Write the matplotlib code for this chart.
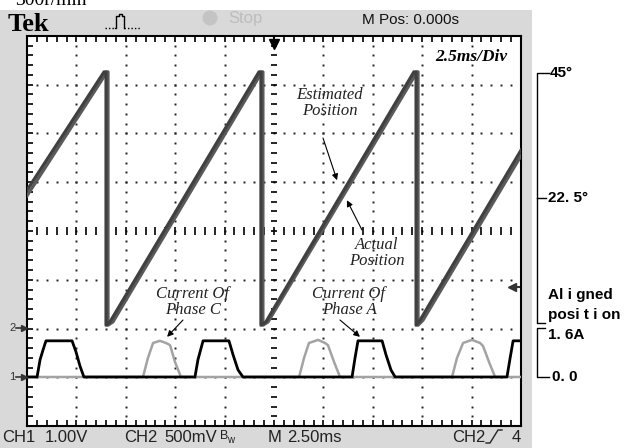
import numpy as np
import matplotlib
matplotlib.use('Agg')
import matplotlib.pyplot as plt
from matplotlib.ticker import MultipleLocator
from matplotlib.patches import Rectangle, Ellipse
from matplotlib.lines import Line2D
from matplotlib.transforms import blended_transform_factory

# time in ms (2.5 ms/div), rotor position in degrees, phase current in A
est_t = [0.0, 3.90, 4.00, 4.00, 4.20, 11.74, 11.84, 11.84, 12.09, 19.58, 19.69, 19.69, 19.89, 25.0]
est_deg = [23.9, 45.2, 45.2, -0.4, 0.2, 45.2, 45.2, -0.4, 0.2, 45.2, 45.2, -0.4, 0.5, 31.1]
act_t = [0.0, 4.05, 4.10, 4.10, 4.35, 11.89, 11.94, 11.94, 12.20, 19.74, 19.79, 19.79, 20.04, 25.0]
act_deg = [22.9, 45.2, 45.2, -0.4, 0.2, 45.2, 45.2, -0.4, 0.2, 45.2, 45.2, -0.4, 0.5, 30.1]

ia_t = [0, 0.51, 0.66, 0.81, 0.96, 2.28, 2.48, 2.68, 2.88,
        8.50, 8.65, 8.91, 10.22, 10.43, 10.68, 10.93,
        16.45, 16.60, 16.75, 17.97, 18.17, 18.42, 18.63,
        24.29, 24.45, 24.60, 25.0]
ia = [0, 0, 0.56, 0.88, 1.18, 1.18, 0.82, 0.36, 0,
      0, 0.56, 1.18, 1.18, 0.72, 0.23, 0,
      0, 0.62, 1.18, 1.18, 0.72, 0.23, 0,
      0, 0.62, 1.18, 1.18]

ic_t = [0, 5.87, 6.12, 6.38, 6.73, 7.03, 7.24, 7.49, 7.79,
        13.77, 14.02, 14.27, 14.73, 15.08, 15.23, 15.54, 15.84,
        21.51, 21.76, 22.07, 22.52, 22.93, 23.08, 23.38, 23.69, 25.0]
ic = [0, 0, 0.62, 1.11, 1.18, 1.11, 1.04, 0.49, 0,
      0, 0.62, 1.11, 1.21, 1.11, 1.04, 0.49, 0,
      0, 0.62, 1.11, 1.21, 1.11, 1.01, 0.49, 0, 0]

W, H = 625, 448
fig = plt.figure(figsize=(6.25, 4.48), dpi=100)
fig.patch.set_facecolor('white')

def fx(px):
    return px / W

def fy(py):
    return 1 - py / H

def fline(xs, ys, **kw):
    fig.add_artist(Line2D([fx(x) for x in xs], [fy(y) for y in ys], transform=fig.transFigure, **kw))

# grey scope panel
fig.add_artist(Rectangle((0, 0), fx(532), fy(10), transform=fig.transFigure,
                         facecolor='#d9d9d9', edgecolor='none', zorder=-5))

ax = fig.add_axes([fx(27), 22 / H, 494 / W, 390 / H])
ax.set_facecolor('white')
ax.set_xlim(0, 25)
ax.set_ylim(0, 8)
ax.xaxis.set_major_locator(MultipleLocator(2.5))
ax.xaxis.set_minor_locator(MultipleLocator(0.5))
ax.yaxis.set_major_locator(MultipleLocator(1))
ax.yaxis.set_minor_locator(MultipleLocator(0.2))
ax.tick_params(which='both', direction='in', length=4, width=1.2, top=True, right=True,
               labelbottom=False, labelleft=False)
for s in ax.spines.values():
    s.set_linewidth(1.5)

# dotted graticule
ydots = np.arange(0.2, 8, 0.2)
xdots = np.arange(0.5, 25, 0.5)
for gx in np.arange(2.5, 25, 2.5):
    if abs(gx - 12.5) > 0.01:
        ax.plot([gx] * len(ydots), ydots, 's', ms=1.4, color='#222222', mew=0)
for gy in range(1, 8):
    if gy != 4:
        ax.plot(xdots, [gy] * len(xdots), 's', ms=1.4, color='#222222', mew=0)
# centre cross with ticks
ax.plot(xdots, [4] * len(xdots), ls='none', marker='|', ms=5.5, mew=1.2, color='k')
ax.plot([12.5] * len(ydots), ydots, ls='none', marker='_', ms=4.5, mew=1.2, color='k')
ax.plot(12.5, 7.84, marker='v', ms=7, color='k', clip_on=False)
ax.plot([12.5, 12.5], [7.84, 8.0], color='k', lw=1.5, clip_on=False)
ax.plot(24.55, 2.85, marker='<', ms=6, color='#333333')
ax.plot([24.55, 25], [2.85, 2.85], color='#333333', lw=1.5)

# position traces
ax_pos = ax.twinx()
ax_pos.set_ylim(-18.54, 51.66)
ax_pos.axis('off')
ax_pos.plot(act_t, act_deg, color='#5a5a5a', lw=2.3)
ax_pos.plot(est_t, est_deg, color='#404040', lw=2.3)

# current traces
ax_cur = ax.twinx()
ax_cur.set_ylim(-1.6, 11.13)
ax_cur.axis('off')
ax_cur.plot(ic_t, ic, color='#a3a3a3', lw=1.8)
ax_cur.plot(ia_t, ia, color='black', lw=2.0)

# annotations
serif = 'Liberation Serif'
fig.text(fx(330), fy(103), 'Estimated\nPosition', ha='center', va='center', fontsize=12,
         style='italic', family=serif, color='#222222', linespacing=1.05)
fig.text(fx(377), fy(253), 'Actual\nPosition', ha='center', va='center', fontsize=12,
         style='italic', family=serif, color='#222222', linespacing=1.05)
fig.text(fx(193), fy(302), 'Current Of\nPhase C', ha='center', va='center', fontsize=12,
         style='italic', family=serif, color='#222222', linespacing=1.05)
fig.text(fx(349), fy(302), 'Current Of\nPhase A', ha='center', va='center', fontsize=12,
         style='italic', family=serif, color='#222222', linespacing=1.05)
fig.text(fx(471), fy(57), '2.5ms/Div', ha='center', va='center', fontsize=12.5,
         style='italic', weight='bold', family=serif, color='black')

arr = dict(arrowstyle='-|>', color='black', lw=0.8, mutation_scale=9, shrinkA=0, shrinkB=0)
ax_pos.annotate('', xy=(15.69, 25.7), xytext=(323, H - 138), textcoords='figure pixels', arrowprops=arr)
ax_pos.annotate('', xy=(16.19, 22.1), xytext=(362, H - 230), textcoords='figure pixels', arrowprops=arr)
ax_cur.annotate('', xy=(7.09, 1.31), xytext=(183, H - 320), textcoords='figure pixels', arrowprops=arr)
ax_cur.annotate('', xy=(16.85, 1.31), xytext=(340, H - 320), textcoords='figure pixels', arrowprops=arr)

# right-hand scale brackets
bt_pos = blended_transform_factory(ax.transAxes, ax_pos.transData)
bt_cur = blended_transform_factory(ax.transAxes, ax_cur.transData)
xa, xb, xc = (537 - 27) / 494, (549 - 27) / 494, (545 - 27) / 494
ax_pos.plot([xb, xa, xa, xc], [45, 45, 0, 0], transform=bt_pos, color='black', lw=1, clip_on=False)
ax_pos.plot([xa, (546 - 27) / 494], [22.5, 22.5], transform=bt_pos, color='black', lw=1, clip_on=False)
ax_cur.plot([xc, xa, xa, xb], [1.6, 1.6, 0, 0], transform=bt_cur, color='black', lw=1, clip_on=False)
ax_pos.text((550 - 27) / 494, 45, '45°', transform=bt_pos, va='center', fontsize=11,
            weight='bold', family='Liberation Sans')
ax_pos.text((548 - 27) / 494, 22.5, '22. 5°', transform=bt_pos, va='center', fontsize=11,
            weight='bold', family='Liberation Sans')
ax_cur.text((548 - 27) / 494, 1.6, '1. 6A', transform=bt_cur, va='top', fontsize=11,
            weight='bold', family='Liberation Sans')
ax_cur.text((552 - 27) / 494, 0, '0. 0', transform=bt_cur, va='center', fontsize=11,
            weight='bold', family='Liberation Sans')
fig.text(fx(548), fy(295), 'Al i gned', va='center', fontsize=11, weight='bold', family='Liberation Sans')
fig.text(fx(548), fy(315), 'posi t i on', va='center', fontsize=11, weight='bold', family='Liberation Sans')

# scope header
fig.text(fx(15), fy(5), '300r/min', va='baseline', fontsize=14, family=serif)
fig.text(fx(8), fy(31), 'Tek', va='baseline', fontsize=19, weight='bold', family=serif)
fline([105, 115], [28, 28], color='black', lw=1, ls=(0, (1, 1.5)))
fline([115, 116, 116, 119, 119, 122, 122, 124, 124], [28, 28, 16, 16, 14, 14, 16, 16, 28], color='black', lw=1)
fline([124, 140], [28, 28], color='black', lw=1, ls=(0, (1, 1.5)))
fig.add_artist(Ellipse((fx(210), fy(18)), 15 / W, 15 / H, transform=fig.transFigure,
                       facecolor='#c4c4c4', edgecolor='none'))
fig.text(fx(228), fy(18), 'Stop', va='center', fontsize=12, color='#bdbdbd', family='Liberation Sans')
fig.text(fx(362), fy(20), 'M Pos: 0.000s', va='center', fontsize=11, color='#111111', family='Liberation Sans')

# channel markers on the left
fig.text(fx(9), fy(328), '2', va='center', fontsize=8, color='#333333', family='Liberation Sans')
fline([16, 24], [328, 328], color='#333333', lw=1.2, marker='>', markevery=[1], ms=4)
fig.text(fx(9), fy(377), '1', va='center', fontsize=8, color='#333333', family='Liberation Sans')
fline([16, 24], [377, 377], color='#333333', lw=1.2, marker='>', markevery=[1], ms=4)

# scope footer
sans = 'Liberation Sans'
foot = dict(va='center', fontsize=12, family=sans, color='#222222')
fig.text(fx(2), fy(437), 'CH1', **foot)
fig.text(fx(45), fy(437), '1.00V', **foot)
fig.text(fx(124), fy(437), 'CH2', **foot)
fig.text(fx(164), fy(437), '500mV', **foot)
fig.text(fx(220), fy(436), 'B', va='center', fontsize=9, family=sans, color='#222222')
fig.text(fx(227), fy(440), 'w', va='center', fontsize=7, family=sans, color='#222222')
fig.text(fx(268), fy(437), 'M', **foot)
fig.text(fx(287), fy(437), '2.50ms', **foot)
fig.text(fx(452), fy(437), 'CH2', **foot)
fline([486, 490, 498, 502], [443, 443, 430, 430], color='#222222', lw=1)
fig.text(fx(512), fy(437), '4', **foot)

fig.savefig('out.png', dpi=100)
